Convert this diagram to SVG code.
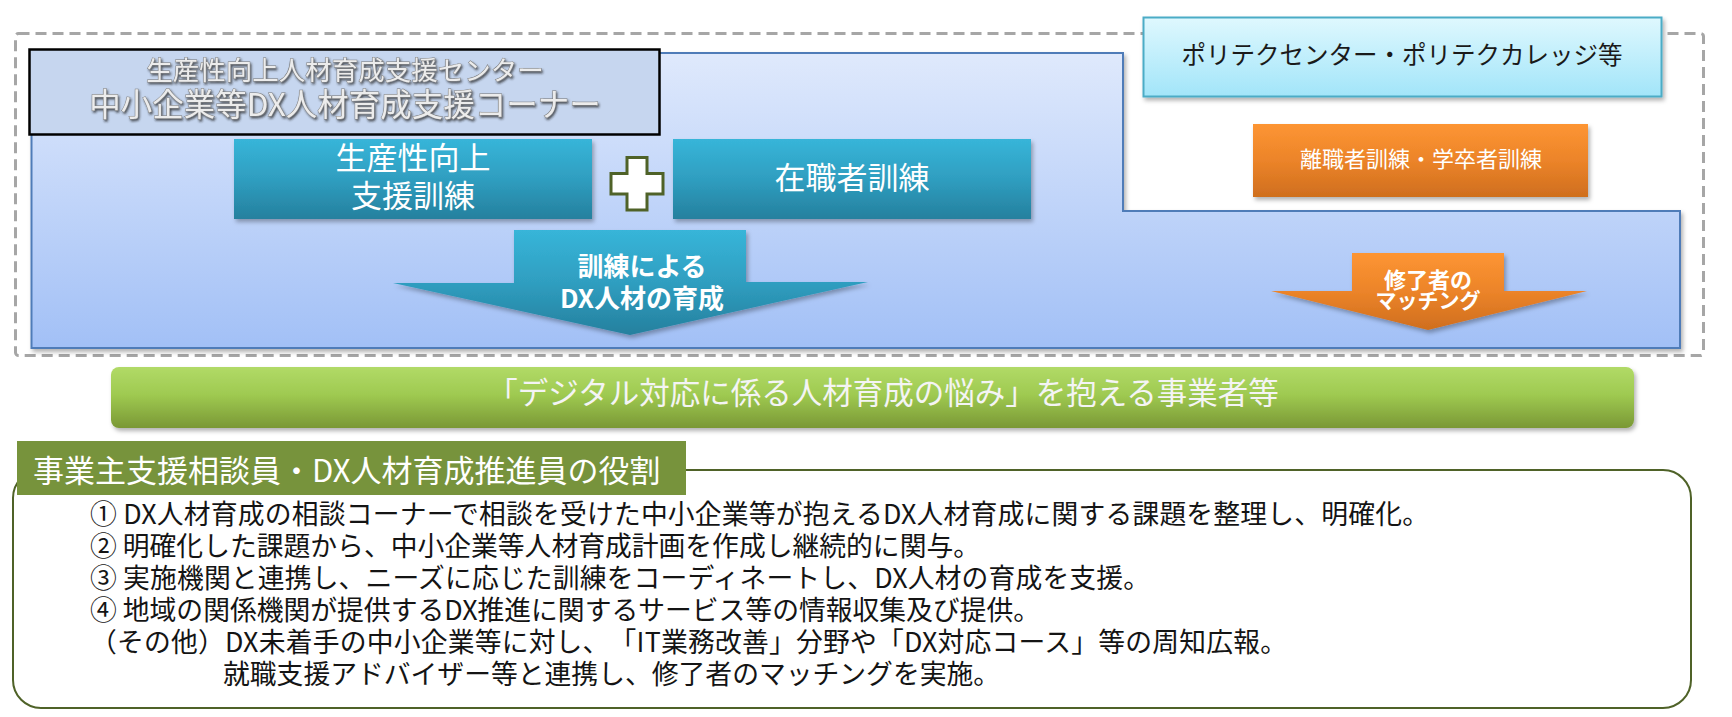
<svg xmlns="http://www.w3.org/2000/svg" width="1732" height="717" viewBox="0 0 1732 717">
<style>
.jp{font-family:"Noto Sans CJK JP","Noto Sans CJK SC","Noto Sans",sans-serif}
.mid{text-anchor:middle}
.wt{fill:#ffffff}
.body{font-size:26.8px;fill:#141414;text-spacing-trim:space-all}
.bold{font-weight:bold}
</style>
<defs>
<linearGradient id="gArea" x1="0" y1="0" x2="0" y2="1"><stop offset="0" stop-color="#dfe9fc"/><stop offset="1" stop-color="#a2c0f6"/></linearGradient>
<linearGradient id="gTeal" x1="0" y1="0" x2="0" y2="1"><stop offset="0" stop-color="#37b5d9"/><stop offset="0.5" stop-color="#2f9ec0"/><stop offset="1" stop-color="#25809e"/></linearGradient>
<linearGradient id="gOrange" x1="0" y1="0" x2="0" y2="1"><stop offset="0" stop-color="#fd9533"/><stop offset="0.5" stop-color="#ec8429"/><stop offset="1" stop-color="#cf6e1e"/></linearGradient>
<linearGradient id="gCyan" x1="0" y1="0" x2="0" y2="1"><stop offset="0" stop-color="#dff8fe"/><stop offset="1" stop-color="#a2e5f9"/></linearGradient>
<linearGradient id="gGreen" x1="0" y1="0" x2="0" y2="1"><stop offset="0" stop-color="#b1da67"/><stop offset="0.45" stop-color="#9fca51"/><stop offset="1" stop-color="#7a9835"/></linearGradient>
<filter id="shadow" x="-5%" y="-10%" width="115%" height="135%"><feDropShadow dx="2" dy="3" stdDeviation="2" flood-color="#000" flood-opacity="0.3"/></filter>
<filter id="txtShadow" x="-5%" y="-20%" width="110%" height="150%"><feDropShadow dx="1.2" dy="1.8" stdDeviation="1.2" flood-color="#222" flood-opacity="0.75"/></filter>
</defs>
<rect x="0" y="0" width="1732" height="717" fill="#ffffff"/>

<g id="outer-frame">
<rect x="15.5" y="33.5" width="1688" height="322" rx="3" fill="none" stroke="#a6a6a6" stroke-width="3" stroke-dasharray="11 6"/>
</g>

<g id="dx-area">
<path d="M31.5,53 H1123 V211 H1680 V348 H31.5 Z" fill="url(#gArea)" stroke="#4f7cb8" stroke-width="2" filter="url(#shadow)"/>
</g>

<g id="center-header">
<rect x="29.5" y="49.5" width="630" height="85" fill="#c6d6ef" stroke="#000000" stroke-width="2.5"/>
<g filter="url(#txtShadow)" fill="#ececec" stroke="#7a7a7a" stroke-width="1" paint-order="stroke">
<text class="jp mid" x="345" y="79.5" font-size="26.5">生産性向上人材育成支援センター</text>
<text class="jp mid" x="345" y="116" font-size="31.5">中小企業等DX人材育成支援コーナー</text>
</g>
</g>

<g id="productivity-training">
<rect x="234" y="139" width="358" height="80" fill="url(#gTeal)" filter="url(#shadow)"/>
<text class="jp mid wt" x="413" y="168.5" font-size="31">生産性向上</text>
<text class="jp mid wt" x="413" y="206.5" font-size="31">支援訓練</text>
</g>

<g id="plus">
<path d="M627,157.5 H647 V173.5 H663 V194 H647 V210 H627 V194 H611 V173.5 H627 Z" fill="#ffffff" stroke="#4f6228" stroke-width="3"/>
</g>

<g id="incumbent-training">
<rect x="673" y="139" width="358" height="80" fill="url(#gTeal)" filter="url(#shadow)"/>
<text class="jp mid wt" x="852" y="189" font-size="31">在職者訓練</text>
</g>

<g id="polytech">
<rect x="1143.5" y="17.5" width="518" height="79" fill="url(#gCyan)" stroke="#4bacc6" stroke-width="2" filter="url(#shadow)"/>
<text class="jp mid" x="1402" y="63.5" font-size="24.5" fill="#1a1a1a">ポリテクセンター・ポリテクカレッジ等</text>
</g>

<g id="jobseeker-training">
<rect x="1253" y="124" width="335" height="73" fill="url(#gOrange)" filter="url(#shadow)"/>
<text class="jp mid wt" x="1421" y="166.5" font-size="22">離職者訓練・学卒者訓練</text>
</g>

<g id="connectors">
<g id="arrow-dx-training">
<path d="M514,230 H746 V282 H868 L630,335 L393,283 H514 Z" fill="url(#gTeal)" filter="url(#shadow)"/>
<text class="jp mid wt bold" x="642" y="276" font-size="26">訓練による</text>
<text class="jp mid wt bold" x="642" y="308" font-size="26">DX人材の育成</text>
</g>
<g id="arrow-matching">
<path d="M1352,253 H1504 V291 H1587 L1428,330 L1271,291 H1352 Z" fill="url(#gOrange)" filter="url(#shadow)"/>
<text class="jp mid wt bold" x="1428" y="288" font-size="22">修了者の</text>
<text class="jp mid wt bold" x="1428" y="308" font-size="21">マッチング</text>
</g>
</g>

<g id="business-banner">
<rect x="111" y="367" width="1523" height="61" rx="8" fill="url(#gGreen)" filter="url(#shadow)"/>
<text class="jp mid" x="883" y="404" font-size="30.5" fill="#f4f4f4">「デジタル対応に係る人材育成の悩み」を抱える事業者等</text>
</g>

<g id="roles">
<rect x="13" y="470" width="1678" height="238" rx="28" fill="#ffffff" stroke="#4f6228" stroke-width="2"/>
<rect x="17" y="441" width="669" height="54" fill="#77933c"/>
<text class="jp wt" x="33" y="481.5" font-size="31">事業主支援相談員・DX人材育成推進員の役割</text>
<text class="jp body" x="90" y="524" textLength="1339" lengthAdjust="spacing">① DX人材育成の相談コーナーで相談を受けた中小企業等が抱えるDX人材育成に関する課題を整理し、明確化。</text>
<text class="jp body" x="90" y="556" textLength="890" lengthAdjust="spacing">② 明確化した課題から、中小企業等人材育成計画を作成し継続的に関与。</text>
<text class="jp body" x="90" y="588" textLength="1060" lengthAdjust="spacing">③ 実施機関と連携し、ニーズに応じた訓練をコーディネートし、DX人材の育成を支援。</text>
<text class="jp body" x="90" y="620" textLength="950" lengthAdjust="spacing">④ 地域の関係機関が提供するDX推進に関するサービス等の情報収集及び提供。</text>
<text class="jp body" x="90" y="652" textLength="1197" lengthAdjust="spacing">（その他）DX未着手の中小企業等に対し、「IT業務改善」分野や「DX対応コース」等の周知広報。</text>
<text class="jp body" x="223" y="684">就職支援アドバイザー等と連携し、修了者のマッチングを実施。</text>
</g>
</svg>
